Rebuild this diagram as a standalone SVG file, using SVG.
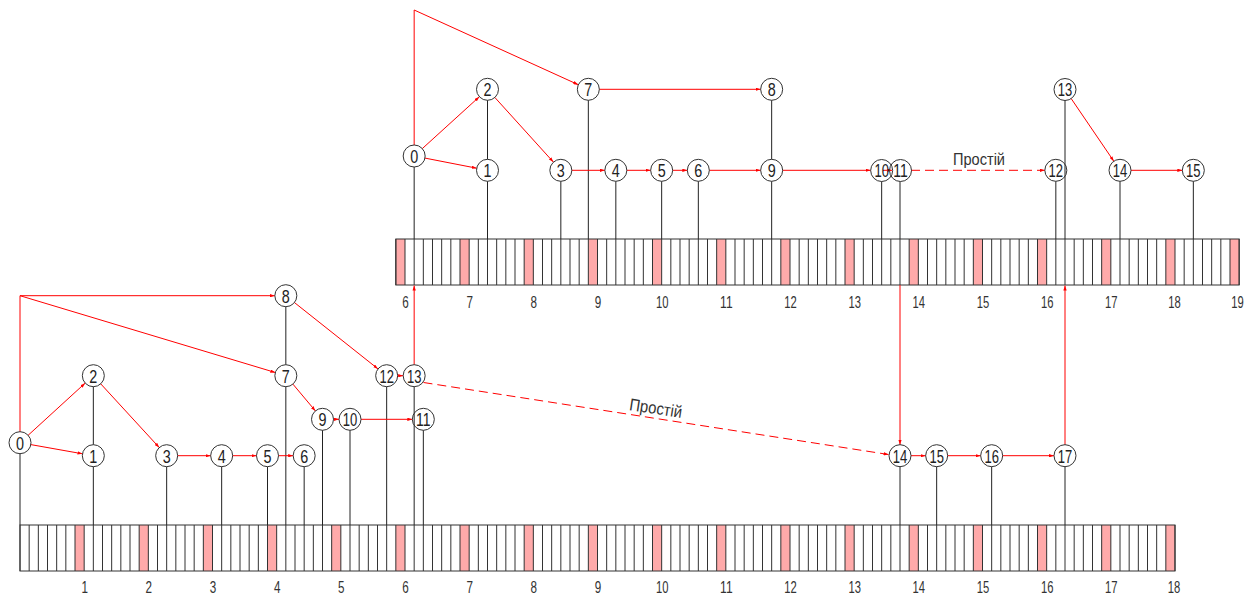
<svg xmlns="http://www.w3.org/2000/svg" width="1260" height="597" viewBox="0 0 1260 597">
<style>
.pk{fill:#ffaaaa}
.grid{fill:none;stroke:#333;stroke-width:46;stroke-dasharray:1 8.16667}
.frame{fill:none;stroke:#333;stroke-width:1}
.lbl{font-family:'Liberation Sans',Arial,sans-serif;font-size:17px;text-anchor:middle;fill:#333}
.nd circle{fill:none;stroke:#333;stroke-width:1}
.nd text{font-family:'Liberation Sans',Arial,sans-serif;font-size:19px;text-anchor:middle;fill:#222}
.ld{fill:none;stroke:#222;stroke-width:1}
.ed{fill:none;stroke:#ff0000;stroke-width:1;marker-end:url(#ah)}
.dsh{stroke-dasharray:9 5}
.note{font-family:'Liberation Sans',Arial,sans-serif;font-size:17px;text-anchor:middle;fill:#333}
</style>
<defs>
<marker id="ah" viewBox="0 0 6 4" refX="6" refY="2" markerWidth="5" markerHeight="3.5" markerUnits="userSpaceOnUse" orient="auto"><path d="M0,0 L6,2 L0,4 z" fill="#ff0000"/></marker>
</defs>
<rect width="1260" height="597" fill="#fff"/>

<g id="scale-bottom">
<rect class="pk" x="75" y="525" width="9.17" height="46"/>
<rect class="pk" x="139.17" y="525" width="9.17" height="46"/>
<rect class="pk" x="203.33" y="525" width="9.17" height="46"/>
<rect class="pk" x="267.5" y="525" width="9.17" height="46"/>
<rect class="pk" x="331.67" y="525" width="9.17" height="46"/>
<rect class="pk" x="395.83" y="525" width="9.17" height="46"/>
<rect class="pk" x="460" y="525" width="9.17" height="46"/>
<rect class="pk" x="524.17" y="525" width="9.17" height="46"/>
<rect class="pk" x="588.33" y="525" width="9.17" height="46"/>
<rect class="pk" x="652.5" y="525" width="9.17" height="46"/>
<rect class="pk" x="716.67" y="525" width="9.17" height="46"/>
<rect class="pk" x="780.83" y="525" width="9.17" height="46"/>
<rect class="pk" x="845" y="525" width="9.17" height="46"/>
<rect class="pk" x="909.17" y="525" width="9.17" height="46"/>
<rect class="pk" x="973.33" y="525" width="9.17" height="46"/>
<rect class="pk" x="1037.5" y="525" width="9.17" height="46"/>
<rect class="pk" x="1101.67" y="525" width="9.17" height="46"/>
<rect class="pk" x="1165.83" y="525" width="9.17" height="46"/>
<path class="grid" d="M19.5,548 H1175.5"/>
<rect class="frame" x="20" y="525" width="1155" height="46"/>
<text class="lbl" x="84.67" y="593" textLength="6.5" lengthAdjust="spacingAndGlyphs">1</text>
<text class="lbl" x="148.83" y="593" textLength="6.5" lengthAdjust="spacingAndGlyphs">2</text>
<text class="lbl" x="213" y="593" textLength="6.5" lengthAdjust="spacingAndGlyphs">3</text>
<text class="lbl" x="277.17" y="593" textLength="6.5" lengthAdjust="spacingAndGlyphs">4</text>
<text class="lbl" x="341.33" y="593" textLength="6.5" lengthAdjust="spacingAndGlyphs">5</text>
<text class="lbl" x="405.5" y="593" textLength="6.5" lengthAdjust="spacingAndGlyphs">6</text>
<text class="lbl" x="469.67" y="593" textLength="6.5" lengthAdjust="spacingAndGlyphs">7</text>
<text class="lbl" x="533.83" y="593" textLength="6.5" lengthAdjust="spacingAndGlyphs">8</text>
<text class="lbl" x="598" y="593" textLength="6.5" lengthAdjust="spacingAndGlyphs">9</text>
<text class="lbl" x="662.17" y="593" textLength="12.5" lengthAdjust="spacingAndGlyphs">10</text>
<text class="lbl" x="726.33" y="593" textLength="12.5" lengthAdjust="spacingAndGlyphs">11</text>
<text class="lbl" x="790.5" y="593" textLength="12.5" lengthAdjust="spacingAndGlyphs">12</text>
<text class="lbl" x="854.67" y="593" textLength="12.5" lengthAdjust="spacingAndGlyphs">13</text>
<text class="lbl" x="918.83" y="593" textLength="12.5" lengthAdjust="spacingAndGlyphs">14</text>
<text class="lbl" x="983" y="593" textLength="12.5" lengthAdjust="spacingAndGlyphs">15</text>
<text class="lbl" x="1047.17" y="593" textLength="12.5" lengthAdjust="spacingAndGlyphs">16</text>
<text class="lbl" x="1111.33" y="593" textLength="12.5" lengthAdjust="spacingAndGlyphs">17</text>
<text class="lbl" x="1174" y="593" textLength="12.5" lengthAdjust="spacingAndGlyphs">18</text>
</g>

<g id="scale-top">
<rect class="pk" x="395.83" y="239" width="9.17" height="46"/>
<rect class="pk" x="460" y="239" width="9.17" height="46"/>
<rect class="pk" x="524.17" y="239" width="9.17" height="46"/>
<rect class="pk" x="588.33" y="239" width="9.17" height="46"/>
<rect class="pk" x="652.5" y="239" width="9.17" height="46"/>
<rect class="pk" x="716.67" y="239" width="9.17" height="46"/>
<rect class="pk" x="780.83" y="239" width="9.17" height="46"/>
<rect class="pk" x="845" y="239" width="9.17" height="46"/>
<rect class="pk" x="909.17" y="239" width="9.17" height="46"/>
<rect class="pk" x="973.33" y="239" width="9.17" height="46"/>
<rect class="pk" x="1037.5" y="239" width="9.17" height="46"/>
<rect class="pk" x="1101.67" y="239" width="9.17" height="46"/>
<rect class="pk" x="1165.83" y="239" width="9.17" height="46"/>
<rect class="pk" x="1230" y="239" width="9.17" height="46"/>
<path class="grid" d="M395.33,262 H1239.67"/>
<rect class="frame" x="395.83" y="239" width="843.33" height="46"/>
<text class="lbl" x="405.5" y="308" textLength="6.5" lengthAdjust="spacingAndGlyphs">6</text>
<text class="lbl" x="469.67" y="308" textLength="6.5" lengthAdjust="spacingAndGlyphs">7</text>
<text class="lbl" x="533.83" y="308" textLength="6.5" lengthAdjust="spacingAndGlyphs">8</text>
<text class="lbl" x="598" y="308" textLength="6.5" lengthAdjust="spacingAndGlyphs">9</text>
<text class="lbl" x="662.17" y="308" textLength="12.5" lengthAdjust="spacingAndGlyphs">10</text>
<text class="lbl" x="726.33" y="308" textLength="12.5" lengthAdjust="spacingAndGlyphs">11</text>
<text class="lbl" x="790.5" y="308" textLength="12.5" lengthAdjust="spacingAndGlyphs">12</text>
<text class="lbl" x="854.67" y="308" textLength="12.5" lengthAdjust="spacingAndGlyphs">13</text>
<text class="lbl" x="918.83" y="308" textLength="12.5" lengthAdjust="spacingAndGlyphs">14</text>
<text class="lbl" x="983" y="308" textLength="12.5" lengthAdjust="spacingAndGlyphs">15</text>
<text class="lbl" x="1047.17" y="308" textLength="12.5" lengthAdjust="spacingAndGlyphs">16</text>
<text class="lbl" x="1111.33" y="308" textLength="12.5" lengthAdjust="spacingAndGlyphs">17</text>
<text class="lbl" x="1174.5" y="308" textLength="12.5" lengthAdjust="spacingAndGlyphs">18</text>
<text class="lbl" x="1237.5" y="308" textLength="12.5" lengthAdjust="spacingAndGlyphs">19</text>
</g>

<g id="leaders">
<path class="ld" d="M414.17,167V239 M487.5,100.3V159.3 M487.5,181.3V239 M560.83,181.3V239 M588.33,100.3V239 M615.83,181.3V239 M661.67,181.3V239 M698.33,181.3V239 M771.67,100.3V159.3 M771.67,181.3V239 M881.67,181.5V239 M900,181.5V239 M1055.83,181.3V239 M1065,100.5V239 M1120,181.3V239 M1193.33,181.3V239"/>
<path class="ld" d="M20,453.7V525 M93.33,386.7V444.7 M93.33,466.7V525 M166.67,466.7V525 M221.67,466.7V525 M267.5,466.7V525 M285.83,306.7V364.7 M285.83,386.7V525 M304.17,466.7V525 M322.5,430.3V525 M350,430.3V525 M386.67,386.7V525 M414.17,386.7V525 M423.33,430.3V525 M900,466.7V525 M936.67,466.7V525 M991.67,466.7V525 M1065,466.7V525"/>
</g>

<g id="connectors">
<path class="ed" d="M422.3,148.6 L479.4,96.7"/>
<path class="ed" d="M425,158.1 L476.7,168.2"/>
<path class="ed" d="M494.9,97.5 L553.4,162.1"/>
<path class="ed" d="M414.17,145 V10 L578.3,84.7"/>
<path class="ed" d="M599.33,89.3 H760.67"/>
<path class="ed" d="M571.83,170.3 H604.83"/>
<path class="ed" d="M626.83,170.3 H650.67"/>
<path class="ed" d="M672.67,170.3 H687.33"/>
<path class="ed" d="M709.33,170.3 H760.67"/>
<path class="ed" d="M782.67,170.3 H870.67"/>
<path class="ed" d="M883,170.3 H892"/>
<path class="ed dsh" d="M911,170.3 H1044.83"/>
<path class="ed" d="M1071.2,98.6 L1113.8,161.2"/>
<path class="ed" d="M1131,170.3 H1182.33"/>

<path class="ed" d="M28.1,435.3 L85.2,383.1"/>
<path class="ed" d="M30.8,444.6 L82.5,453.8"/>
<path class="ed" d="M100.7,383.8 L159.3,447.6"/>
<path class="ed" d="M20,431.7 V295.7 H274.83"/>
<path class="ed" d="M20,295.7 L275.3,372.5"/>
<path class="ed" d="M177.67,455.7 H210.67"/>
<path class="ed" d="M232.67,455.7 H256.5"/>
<path class="ed" d="M278.5,455.7 H293.17"/>
<path class="ed" d="M292.9,384.1 L315.4,410.9"/>
<path class="ed" d="M333.5,419.3 H339"/>
<path class="ed" d="M361,419.3 H412.33"/>
<path class="ed" d="M294.4,302.5 L378,368.9"/>
<path class="ed" d="M397.67,375.7 H403.17"/>
<path class="ed dsh" d="M423.5,382.5 L888.5,454.5"/>
<path class="ed" d="M911,455.7 H925.67"/>
<path class="ed" d="M947.67,455.7 H980.67"/>
<path class="ed" d="M1002.67,455.7 H1054"/>
<path class="ed" d="M414.17,364.7 V285.5"/>
<path class="ed" d="M900,285 V444.7"/>
<path class="ed" d="M1065,444.7 V285.5"/>
<text class="note" x="979" y="165" textLength="52" lengthAdjust="spacingAndGlyphs">Простій</text>
<text class="note" x="655" y="414" textLength="53" lengthAdjust="spacingAndGlyphs" transform="rotate(8.8 655 414)">Простій</text>
</g>

<g id="top-0" class="nd"><circle cx="414.17" cy="156" r="11"/><text x="414.17" y="162.8" textLength="8" lengthAdjust="spacingAndGlyphs">0</text></g>
<g id="top-1" class="nd"><circle cx="487.5" cy="170.3" r="11"/><text x="487.5" y="177.1" textLength="8" lengthAdjust="spacingAndGlyphs">1</text></g>
<g id="top-2" class="nd"><circle cx="487.5" cy="89.3" r="11"/><text x="487.5" y="96.1" textLength="8" lengthAdjust="spacingAndGlyphs">2</text></g>
<g id="top-3" class="nd"><circle cx="560.83" cy="170.3" r="11"/><text x="560.83" y="177.1" textLength="8" lengthAdjust="spacingAndGlyphs">3</text></g>
<g id="top-4" class="nd"><circle cx="615.83" cy="170.3" r="11"/><text x="615.83" y="177.1" textLength="8" lengthAdjust="spacingAndGlyphs">4</text></g>
<g id="top-5" class="nd"><circle cx="661.67" cy="170.3" r="11"/><text x="661.67" y="177.1" textLength="8" lengthAdjust="spacingAndGlyphs">5</text></g>
<g id="top-6" class="nd"><circle cx="698.33" cy="170.3" r="11"/><text x="698.33" y="177.1" textLength="8" lengthAdjust="spacingAndGlyphs">6</text></g>
<g id="top-7" class="nd"><circle cx="588.33" cy="89.3" r="11"/><text x="588.33" y="96.1" textLength="8" lengthAdjust="spacingAndGlyphs">7</text></g>
<g id="top-8" class="nd"><circle cx="771.67" cy="89.3" r="11"/><text x="771.67" y="96.1" textLength="8" lengthAdjust="spacingAndGlyphs">8</text></g>
<g id="top-9" class="nd"><circle cx="771.67" cy="170.3" r="11"/><text x="771.67" y="177.1" textLength="8" lengthAdjust="spacingAndGlyphs">9</text></g>
<g id="top-10" class="nd"><circle cx="881.67" cy="170.5" r="11"/><text x="881.67" y="177.3" textLength="14.5" lengthAdjust="spacingAndGlyphs">10</text></g>
<g id="top-11" class="nd"><circle cx="900.5" cy="170.5" r="11"/><text x="900.5" y="177.3" textLength="14.5" lengthAdjust="spacingAndGlyphs">11</text></g>
<g id="top-12" class="nd"><circle cx="1055.83" cy="170.3" r="11"/><text x="1055.83" y="177.1" textLength="14.5" lengthAdjust="spacingAndGlyphs">12</text></g>
<g id="top-13" class="nd"><circle cx="1065" cy="89.5" r="11"/><text x="1065" y="96.3" textLength="14.5" lengthAdjust="spacingAndGlyphs">13</text></g>
<g id="top-14" class="nd"><circle cx="1120" cy="170.3" r="11"/><text x="1120" y="177.1" textLength="14.5" lengthAdjust="spacingAndGlyphs">14</text></g>
<g id="top-15" class="nd"><circle cx="1193.33" cy="170.3" r="11"/><text x="1193.33" y="177.1" textLength="14.5" lengthAdjust="spacingAndGlyphs">15</text></g>

<g id="bottom-0" class="nd"><circle cx="20" cy="442.7" r="11"/><text x="20" y="449.5" textLength="8" lengthAdjust="spacingAndGlyphs">0</text></g>
<g id="bottom-1" class="nd"><circle cx="93.33" cy="455.7" r="11"/><text x="93.33" y="462.5" textLength="8" lengthAdjust="spacingAndGlyphs">1</text></g>
<g id="bottom-2" class="nd"><circle cx="93.33" cy="375.7" r="11"/><text x="93.33" y="382.5" textLength="8" lengthAdjust="spacingAndGlyphs">2</text></g>
<g id="bottom-3" class="nd"><circle cx="166.67" cy="455.7" r="11"/><text x="166.67" y="462.5" textLength="8" lengthAdjust="spacingAndGlyphs">3</text></g>
<g id="bottom-4" class="nd"><circle cx="221.67" cy="455.7" r="11"/><text x="221.67" y="462.5" textLength="8" lengthAdjust="spacingAndGlyphs">4</text></g>
<g id="bottom-5" class="nd"><circle cx="267.5" cy="455.7" r="11"/><text x="267.5" y="462.5" textLength="8" lengthAdjust="spacingAndGlyphs">5</text></g>
<g id="bottom-6" class="nd"><circle cx="304.17" cy="455.7" r="11"/><text x="304.17" y="462.5" textLength="8" lengthAdjust="spacingAndGlyphs">6</text></g>
<g id="bottom-7" class="nd"><circle cx="285.83" cy="375.7" r="11"/><text x="285.83" y="382.5" textLength="8" lengthAdjust="spacingAndGlyphs">7</text></g>
<g id="bottom-8" class="nd"><circle cx="285.83" cy="295.7" r="11"/><text x="285.83" y="302.5" textLength="8" lengthAdjust="spacingAndGlyphs">8</text></g>
<g id="bottom-9" class="nd"><circle cx="322.5" cy="419.3" r="11"/><text x="322.5" y="426.1" textLength="8" lengthAdjust="spacingAndGlyphs">9</text></g>
<g id="bottom-10" class="nd"><circle cx="350" cy="419.3" r="11"/><text x="350" y="426.1" textLength="14.5" lengthAdjust="spacingAndGlyphs">10</text></g>
<g id="bottom-11" class="nd"><circle cx="423.33" cy="419.3" r="11"/><text x="423.33" y="426.1" textLength="14.5" lengthAdjust="spacingAndGlyphs">11</text></g>
<g id="bottom-12" class="nd"><circle cx="386.67" cy="375.7" r="11"/><text x="386.67" y="382.5" textLength="14.5" lengthAdjust="spacingAndGlyphs">12</text></g>
<g id="bottom-13" class="nd"><circle cx="414.17" cy="375.7" r="11"/><text x="414.17" y="382.5" textLength="14.5" lengthAdjust="spacingAndGlyphs">13</text></g>
<g id="bottom-14" class="nd"><circle cx="900" cy="455.7" r="11"/><text x="900" y="462.5" textLength="14.5" lengthAdjust="spacingAndGlyphs">14</text></g>
<g id="bottom-15" class="nd"><circle cx="936.67" cy="455.7" r="11"/><text x="936.67" y="462.5" textLength="14.5" lengthAdjust="spacingAndGlyphs">15</text></g>
<g id="bottom-16" class="nd"><circle cx="991.67" cy="455.7" r="11"/><text x="991.67" y="462.5" textLength="14.5" lengthAdjust="spacingAndGlyphs">16</text></g>
<g id="bottom-17" class="nd"><circle cx="1065" cy="455.7" r="11"/><text x="1065" y="462.5" textLength="14.5" lengthAdjust="spacingAndGlyphs">17</text></g>
</svg>
